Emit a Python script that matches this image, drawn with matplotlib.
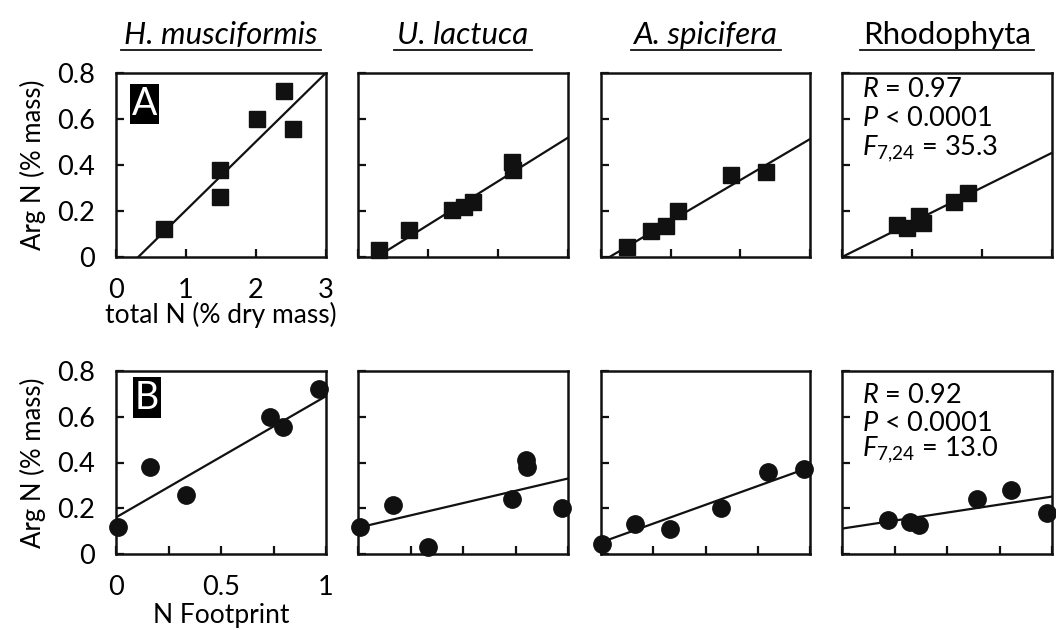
import matplotlib

matplotlib.use("Agg")
import matplotlib.pyplot as plt
from matplotlib.lines import Line2D

plt.rcParams["font.family"] = ["Lato", "DejaVu Sans"]
plt.rcParams["mathtext.fontset"] = "custom"
plt.rcParams["mathtext.rm"] = "Lato"
plt.rcParams["mathtext.it"] = "Lato:italic"

SPECIES = ["H. musciformis", "U. lactuca", "A. spicifera", "Rhodophyta"]
ITALIC = [True, True, True, False]

# Arg N (% mass), shared by both rows
ARG_N = [
    [0.12, 0.38, 0.26, 0.60, 0.72, 0.556],
    [0.03, 0.116, 0.203, 0.216, 0.239, 0.411, 0.379],
    [0.042, 0.111, 0.133, 0.199, 0.357, 0.37],
    [0.138, 0.128, 0.18, 0.149, 0.241, 0.28],
]
# total N (% dry mass)
TOTAL_N = [
    [0.69, 1.49, 1.49, 2.01, 2.40, 2.53],
    [0.30, 0.735, 1.34, 1.51, 1.64, 2.20, 2.22],
    [0.385, 0.72, 0.94, 1.11, 1.86, 2.36],
    [0.79, 0.93, 1.10, 1.16, 1.60, 1.80],
]
# N Footprint
FOOTPRINT = [
    [0.01, 0.16, 0.333, 0.733, 0.967, 0.797],
    [0.333, 0.01, 0.97, 0.167, 0.734, 0.80, 0.803],
    [0.008, 0.33, 0.163, 0.574, 0.80, 0.968],
    [0.324, 0.368, 0.976, 0.22, 0.642, 0.804],
]
# regression lines (intercept, slope)
FIT_A = [(-0.095, 0.2985), (-0.051, 0.19), (-0.023, 0.179), (0.0, 0.151)]
FIT_B = [(0.16, 0.53), (0.115, 0.215), (0.05, 0.33), (0.111, 0.14)]
STATS_A = ["0.97", "0.0001", "35.3"]
STATS_B = ["0.92", "0.0001", "13.0"]

W, H = 1056, 630
fig = plt.figure(figsize=(W / 100, H / 100), dpi=100)

LEFTS = [116, 358, 600.5, 842]
AX_W = 210
ROWS = [(73, 257), (371, 554)]
INK = "#111111"


def make_ax(left, top, bottom):
    return fig.add_axes((left / W, 1 - bottom / H, AX_W / W, (bottom - top) / H))


def style(ax, first):
    for s in ax.spines.values():
        s.set_linewidth(1.8)
        s.set_color(INK)
    ax.tick_params(direction="in", length=6, width=1.6, color=INK,
                   labelsize=19.5, pad=15, top=False, right=False)
    ax.set_ylim(0, 0.8)
    ax.set_yticks([0, 0.2, 0.4, 0.6, 0.8])
    if first:
        ax.set_yticklabels(["0", "0.2", "0.4", "0.6", "0.8"])
    else:
        ax.set_yticklabels([])


def stats(ax, vals, ys):
    x = 0.095
    kw = dict(transform=ax.transAxes, fontsize=19.5, va="baseline")
    ax.text(x, ys[0], r"$R$ = " + vals[0], **kw)
    ax.text(x, ys[1], r"$P$ < " + vals[1], **kw)
    ax.text(x, ys[2], r"$F_{7{,}24}$ = " + vals[2], **kw)


for i in range(4):
    # row A: total N
    ax = make_ax(LEFTS[i], *ROWS[0])
    style(ax, i == 0)
    ax.set_xlim(0, 3)
    ax.set_xticks([0, 1, 2, 3])
    ax.set_xticklabels(["0", "1", "2", "3"] if i == 0 else [])
    b, m = FIT_A[i]
    ax.axline((0, b), slope=m, color=INK, lw=1.6)
    ax.plot(TOTAL_N[i], ARG_N[i], "s", color=INK, ms=11.5, clip_on=False, zorder=3)
    if i == 0:
        ax.set_ylabel("Arg N (% mass)", fontsize=18.5, labelpad=8)
        ax.set_xlabel("total N (% dry mass)", fontsize=19, labelpad=-1)
        ax.text(0.136, 0.832, "A", transform=ax.transAxes, fontsize=27, color="white",
                ha="center", va="center",
                bbox=dict(boxstyle="square,pad=0.06", fc="black", ec="none"))
    if i == 3:
        stats(ax, STATS_A, [0.870, 0.712, 0.554])

    # row B: N footprint
    ax = make_ax(LEFTS[i], *ROWS[1])
    style(ax, i == 0)
    ax.set_xlim(0, 1)
    ax.set_xticks([0, 0.25, 0.5, 0.75, 1])
    ax.set_xticklabels(["0", "", "0.5", "", "1"] if i == 0 else [])
    b, m = FIT_B[i]
    ax.axline((0, b), slope=m, color=INK, lw=1.6)
    ax.plot(FOOTPRINT[i], ARG_N[i], "o", color=INK, ms=12.5, clip_on=False, zorder=3)
    if i == 0:
        ax.set_ylabel("Arg N (% mass)", fontsize=18.5, labelpad=8)
        ax.set_xlabel("N Footprint", fontsize=19, labelpad=2)
        ax.text(0.148, 0.855, "B", transform=ax.transAxes, fontsize=27, color="white",
                ha="center", va="center",
                bbox=dict(boxstyle="square,pad=0.06", fc="black", ec="none"))
    if i == 3:
        stats(ax, STATS_B, [0.825, 0.674, 0.533])

# species titles with underline
fig.canvas.draw()
renderer = fig.canvas.get_renderer()
for i, name in enumerate(SPECIES):
    cx = (LEFTS[i] + AX_W / 2) / W
    t = fig.text(cx, 1 - 35 / H, name, ha="center", va="center", fontsize=22.5,
                 style="italic" if ITALIC[i] else "normal")
    bb = t.get_window_extent(renderer)
    fig.add_artist(Line2D([(bb.x0 - 3) / W, (bb.x1 + 3) / W], [1 - 50 / H] * 2,
                          color=INK, lw=1.3))

fig.savefig("out.png", dpi=100)
